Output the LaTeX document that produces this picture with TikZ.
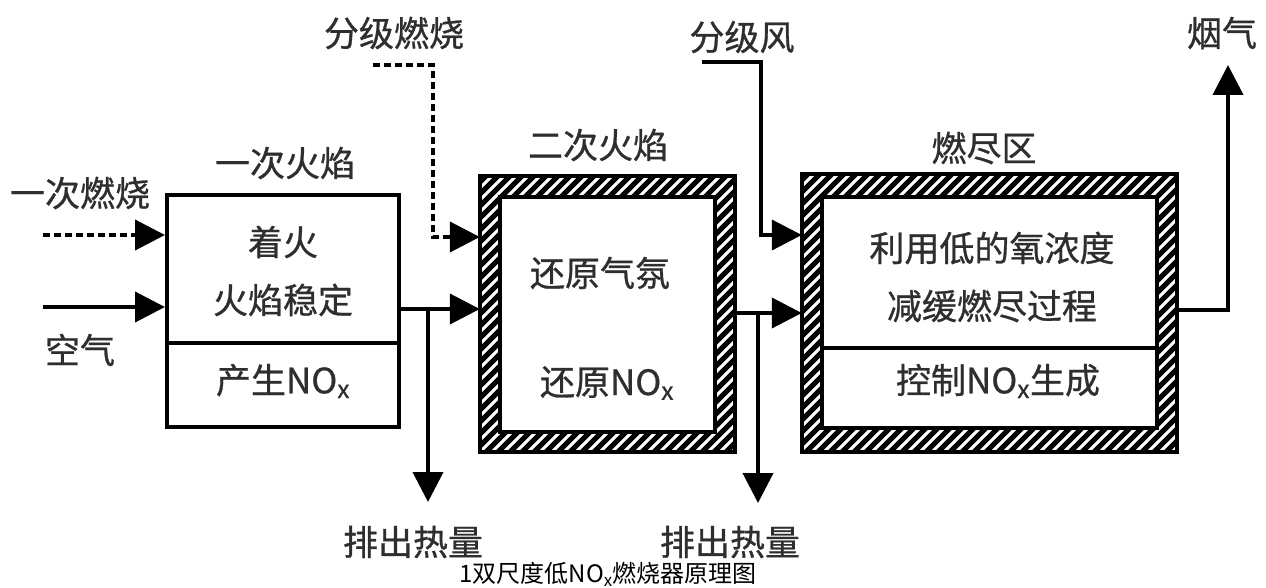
\documentclass[tikz,border=0pt]{standalone}
\usepackage{fontspec}
\setmainfont{Noto Sans CJK SC}
\newfontfamily\heavycjk[FakeBold=0.8]{Noto Sans CJK SC}
\usetikzlibrary{arrows.meta}
\definecolor{txt}{HTML}{2E2E2E}
\tikzset{
  lbl/.style={font=\heavycjk\fontsize{35}{58}\selectfont, text=txt, inner sep=0pt, align=center},
  boxline/.style={draw=black, line width=4pt},
  flow/.style={line width=4pt, -{Triangle[length=30pt,width=30pt]}},
  dflow/.style={flow, dash pattern=on 7pt off 4pt},
  stripe/.style={line width=5pt, black},
}
\begin{document}
\begin{tikzpicture}[x=1pt,y=-1pt]
\useasboundingbox (0,0) rectangle (1266,588);
% ---- box 1
\node[boxline, minimum width=232pt, minimum height=232pt, inner sep=0pt] (b1) at (283,311) {};
\draw[boxline] (b1.west |- 0,343) -- (b1.east |- 0,343);
\node[lbl] (t1a) at (283,271) {着火\\火焰稳定};
\node[lbl] (t1b) at (283,381) {产生NO\textsubscript{x}};
\node[lbl] (h1) at (285,163) {一次火焰};
% ---- box 2 (hatched)
\node[minimum width=255pt, minimum height=276pt, inner sep=0pt] (b2) at (607.5,314) {};
\begin{scope}
  \clip (b2.south west) rectangle (b2.north east);
  \foreach \i in {180,192,...,760} \draw[stripe] (\i,470) -- ++(320,-320);
\end{scope}
\draw[boxline] (b2.south west) rectangle (b2.north east);
\node[boxline, fill=white, minimum width=215pt, minimum height=235pt, inner sep=0pt] (b2i) at (607.5,314.5) {};
\node[lbl] (t2a) at (600,273) {还原气氛};
\node[lbl] (t2b) at (607,383) {还原NO\textsubscript{x}};
\node[lbl] (h2) at (598,145) {二次火焰};
% ---- box 3 (hatched)
\node[minimum width=375pt, minimum height=278pt, inner sep=0pt] (b3) at (989.5,313) {};
\begin{scope}
  \clip (b3.south west) rectangle (b3.north east);
  \foreach \i in {500,512,...,1200} \draw[stripe] (\i,470) -- ++(320,-320);
\end{scope}
\draw[boxline] (b3.south west) rectangle (b3.north east);
\node[boxline, fill=white, minimum width=335pt, minimum height=231pt, inner sep=0pt] (b3i) at (989.5,312.5) {};
\draw[boxline] (b3i.west |- 0,348) -- (b3i.east |- 0,348);
\node[lbl] (t3a) at (992,277) {利用低的氧浓度\\减缓燃尽过程};
\node[lbl] (t3b) at (998,381) {控制NO\textsubscript{x}生成};
\node[lbl] (h3) at (984,148) {燃尽区};
% ---- inputs
\node[lbl] (in1) at (80,193) {一次燃烧};
\node[lbl] (in2) at (80,350) {空气};
\coordinate (s1) at (43,235);
\coordinate (s2) at (43,307);
\draw[dflow] (s1) -- (s1 -| b1.west);
\draw[flow] (s2) -- (s2 -| b1.west);
% staged combustion
\node[lbl] (st) at (394,33) {分级燃烧};
\coordinate (s3) at (373,65);
\coordinate (k3) at (433,65);
\draw[dflow] (s3) -- (k3) -- (k3 |- 0,237) -- (b2.west |- 0,237);
% staged air
\node[lbl] (sa) at (742,37) {分级风};
\coordinate (s4) at (702,62);
\coordinate (k4) at (761,62);
\draw[flow] (s4) -- (k4) -- (k4 |- 0,235) -- (b3.west |- 0,235);
% flows between boxes
\draw[flow] (b1.east |- 0,309) -- (b2.west |- 0,309);
\coordinate (d1) at (428,309);
\coordinate (e1) at (428,502);
\draw[flow] (d1) -- (e1);
\node[lbl] (o1) at (413,542) {排出热量};
\draw[flow] (b2.east |- 0,313) -- (b3.west |- 0,313);
\coordinate (d2) at (758,313);
\coordinate (e2) at (758,503);
\draw[flow] (d2) -- (e2);
\node[lbl] (o2) at (730,542) {排出热量};
% output
\coordinate (k5) at (1228,310);
\coordinate (e5) at (1228,65);
\draw[flow] (b3.east |- k5) -- (k5) -- (e5);
\node[lbl] (fg) at (1222,33) {烟气};
% caption
\node[font=\fontsize{24}{28}\selectfont, inner sep=0pt] (cap) at (608,574) {1双尺度低NO\textsubscript{x}燃烧器原理图};
\end{tikzpicture}
\end{document}
